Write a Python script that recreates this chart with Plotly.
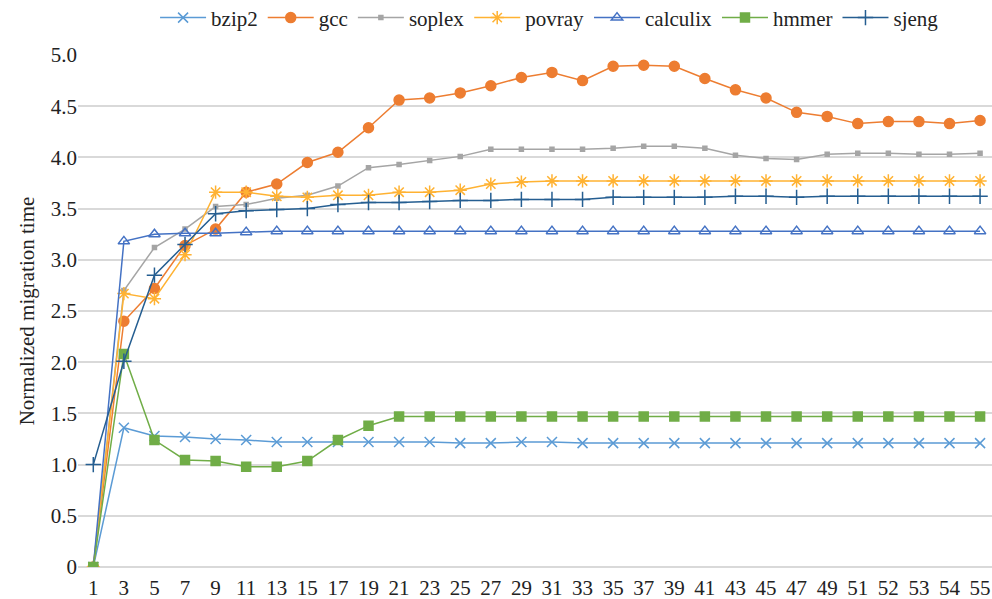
import plotly.graph_objects as go

categories = ["1","3","5","7","9","11","13","15","17","19","21","23","25","27","29",
              "31","33","35","37","39","41","43","45","47","49","51","52","53","54","55"]

bzip2 = [0, 1.36, 1.28, 1.27, 1.25, 1.24, 1.22, 1.22, 1.22, 1.22, 1.22, 1.22, 1.21, 1.21, 1.22,
         1.22, 1.21, 1.21, 1.21, 1.21, 1.21, 1.21, 1.21, 1.21, 1.21, 1.21, 1.21, 1.21, 1.21, 1.21]
gcc = [0, 2.40, 2.72, 3.14, 3.30, 3.66, 3.74, 3.95, 4.05, 4.29, 4.56, 4.58, 4.63, 4.70, 4.78,
       4.83, 4.75, 4.89, 4.90, 4.89, 4.77, 4.66, 4.58, 4.44, 4.40, 4.33, 4.35, 4.35, 4.33, 4.36]
soplex = [0, 2.70, 3.12, 3.30, 3.52, 3.54, 3.60, 3.63, 3.72, 3.90, 3.93, 3.97, 4.01, 4.08, 4.08,
          4.08, 4.08, 4.09, 4.11, 4.11, 4.09, 4.02, 3.99, 3.98, 4.03, 4.04, 4.04, 4.03, 4.03, 4.04]
povray = [0, 2.67, 2.62, 3.05, 3.66, 3.66, 3.62, 3.61, 3.63, 3.63, 3.66, 3.66, 3.68, 3.74, 3.76,
          3.77, 3.77, 3.77, 3.77, 3.77, 3.77, 3.77, 3.77, 3.77, 3.77, 3.77, 3.77, 3.77, 3.77, 3.77]
calculix = [0, 3.18, 3.25, 3.26, 3.26, 3.27, 3.28, 3.28, 3.28, 3.28, 3.28, 3.28, 3.28, 3.28, 3.28,
            3.28, 3.28, 3.28, 3.28, 3.28, 3.28, 3.28, 3.28, 3.28, 3.28, 3.28, 3.28, 3.28, 3.28, 3.28]
hmmer = [0, 2.08, 1.24, 1.045, 1.035, 0.98, 0.98, 1.035, 1.24, 1.38, 1.47, 1.47, 1.47, 1.47, 1.47,
         1.47, 1.47, 1.47, 1.47, 1.47, 1.47, 1.47, 1.47, 1.47, 1.47, 1.47, 1.47, 1.47, 1.47, 1.47]
sjeng = [1.0, 2.01, 2.85, 3.15, 3.45, 3.48, 3.49, 3.50, 3.54, 3.56, 3.56, 3.57, 3.58, 3.58, 3.59,
         3.59, 3.59, 3.61, 3.61, 3.61, 3.61, 3.62, 3.62, 3.61, 3.62, 3.62, 3.62, 3.62, 3.62, 3.62]

y_ticks = [0, 0.5, 1.0, 1.5, 2.0, 2.5, 3.0, 3.5, 4.0, 4.5, 5.0]
y_tick_text = ["0", "0.5", "1.0", "1.5", "2.0", "2.5", "3.0", "3.5", "4.0", "4.5", "5.0"]

series = [
    ("bzip2", bzip2, "#5B9BD5", "x-thin-open", 10),
    ("gcc", gcc, "#ED7D31", "circle", 10),
    ("soplex", soplex, "#A5A5A5", "square", 4),
    ("povray", povray, "#FFB232", "asterisk-open", 11),
    ("calculix", calculix, "#4472C4", "triangle-up-open", 10),
    ("hmmer", hmmer, "#70AD47", "square", 9),
    ("sjeng", sjeng, "#255E91", "cross-thin-open", 11),
]

FONT = "Times New Roman, Liberation Serif, DejaVu Serif, serif"
FS = 21

fig = go.Figure()
for name, vals, color, sym, size in series:
    fig.add_trace(go.Scatter(
        x=categories, y=vals, name=name, mode="lines+markers",
        line=dict(color=color, width=1.5),
        marker=dict(symbol=sym, size=size, color=color,
                    line=dict(color=color, width=1.5)),
    ))

fig.update_layout(
    width=992, height=599,
    margin=dict(l=78, r=0, t=55, b=32, autoexpand=False),
    paper_bgcolor="white", plot_bgcolor="white",
    font=dict(family=FONT, size=FS, color="#222222"),
    showlegend=True,
    legend=dict(orientation="h", x=0.554, xref="container", xanchor="center",
                y=0.97, yanchor="middle", yref="container",
                font=dict(family=FONT, size=FS), itemwidth=46,
                traceorder="normal"),
    xaxis=dict(type="category", range=[-0.5, 29.39], showgrid=False, automargin=False,
               showline=False, ticks="", ticklabelstandoff=6,
               tickfont=dict(family=FONT, size=FS)),
    yaxis=dict(range=[0, 5.0], tickvals=y_ticks, ticktext=y_tick_text, automargin=False,
               showgrid=True, gridcolor="#D9D9D9", gridwidth=1.5,
               zeroline=True, zerolinecolor="#D9D9D9", zerolinewidth=1.5,
               ticks="", tickfont=dict(family=FONT, size=FS),
               title=dict(text="Normalized migration time", font=dict(family=FONT, size=FS),
                          standoff=10)),
)

fig.write_html("out.html", config={"displayModeBar": False},
               post_script="document.body.style.margin='0';document.body.style.overflow='hidden';")
